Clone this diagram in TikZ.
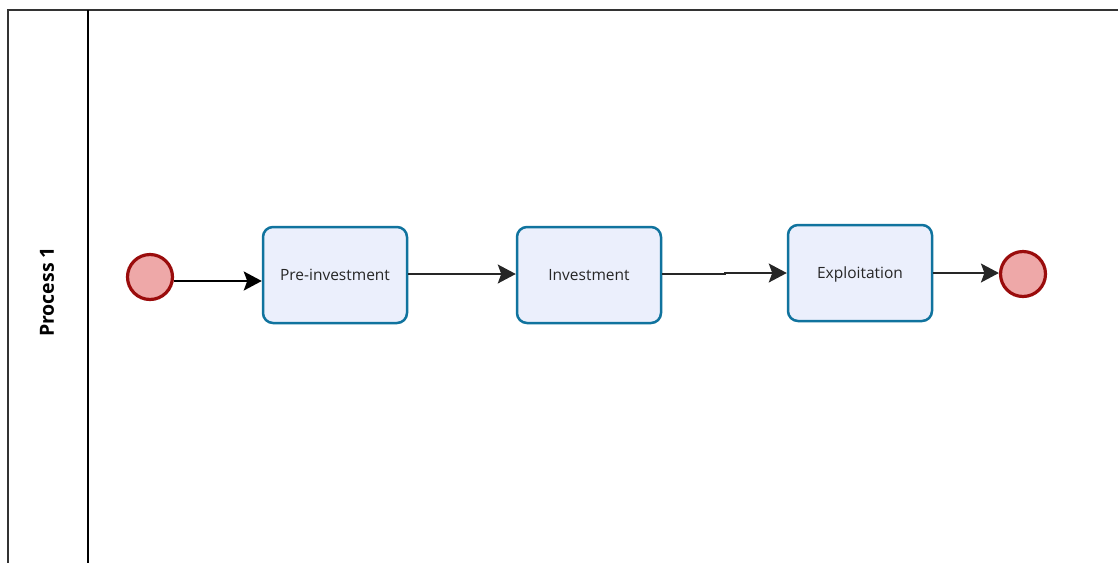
\documentclass[tikz,border=0pt]{standalone}
\usepackage{fontspec}
\setmainfont{Open Sans}
\usetikzlibrary{arrows.meta}
\definecolor{taskdraw}{HTML}{10739E}
\definecolor{taskfill}{HTML}{EBEFFC}
\definecolor{evdraw}{HTML}{9A0C0C}
\definecolor{evfill}{HTML}{EEA8A8}
\tikzset{
  taskbox/.style={draw=taskdraw, fill=taskfill, line width=2.5pt, rounded corners=10pt,
    minimum width=144pt, minimum height=96pt, inner sep=0pt, font=\fontsize{15.5}{18}\selectfont, text=black!85,
    text depth=0pt, text height=11pt},
  event/.style={circle, draw=evdraw, fill=evfill, line width=3.2pt, minimum size=45pt, inner sep=0pt},
  flow/.style={-{Stealth[length=18pt,width=19pt,inset=3.5pt]}, line width=1.4pt, black!85},
  pool/.style={line width=1.5pt, black!80},
}
\begin{document}
\begin{tikzpicture}[x=1pt,y=-1pt]
\useasboundingbox (0,0) rectangle (1118,563);
\fill[white] (0,0) rectangle (1118,563);
% pool
\coordinate (ptl) at (8,10);
\coordinate (ptr) at (1118,10);
\coordinate (pbl) at (8,563);
\coordinate (dtop) at (88,10);
\coordinate (dbot) at (88,563);
\draw[pool] (ptr) -- (ptl) -- (pbl);
\draw[line width=2.2pt, black] (dtop) -- (dbot);
\node[rotate=90, font=\bfseries\fontsize{19.5}{22}\selectfont] (lane) at (47,292) {Process 1};
% nodes
\node[event] (start) at (150,277) {};
\node[taskbox] (t1) at (335,275) {Pre-investment};
\node[taskbox] (t2) at (589,275) {Investment};
\node[taskbox] (t3) at (860,273) {Exploitation};
\node[event] (end) at (1023,274) {};
% flows
\coordinate (k1) at (725,274);
\coordinate (k2) at (725,273);
\draw[flow, line width=2.2pt, black] (start.east |- 0,281) -- (t1.west |- 0,281);
\draw[flow] (t1.east |- 0,274) -- (t2.west |- 0,274);
\draw[flow] (t2.east |- 0,274) -- (k1) -- (k2) -- (t3.west |- 0,273);
\draw[flow] (t3.east |- 0,273) -- (end.west |- 0,273);
\end{tikzpicture}
\end{document}
